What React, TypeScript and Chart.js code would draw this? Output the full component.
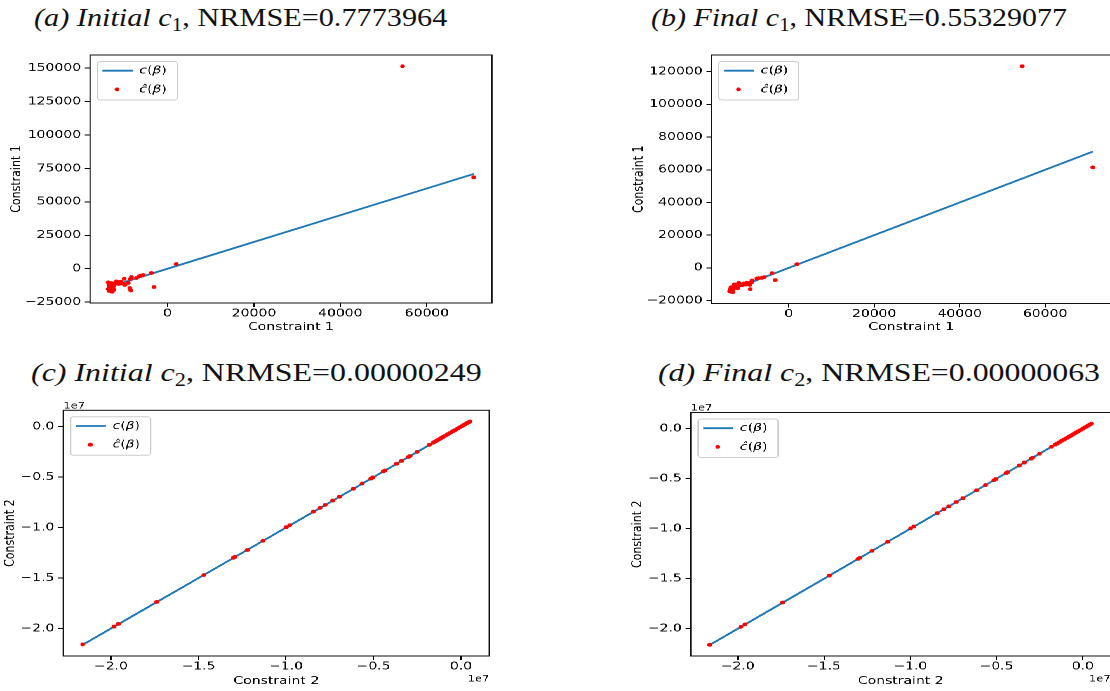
import React, { useEffect, useLayoutEffect, useRef, useState } from 'react';
import { Chart, registerables } from 'chart.js';

Chart.register(...registerables);

// ---------------- DATA ----------------
// (a) Initial c1 : true constraint value (x) vs estimate (y)
const c1TrueA = [-13710, -13710, -13570, -13480, -13340, -13180, -13110, -13110, -12950, -12790, -12560, -12420, -12190, -11800, -11270, -10810, -10250, -10020, -9880, -9100, -8730, -8570, -8500, -8340, -7190, -6660, -6200, -5650, -3730, -3110, 2030, 54400, 70850];
const c1HatInitial = [-15200, -10250, -12200, -16690, -14000, -14450, -15720, -12720, -10700, -17220, -13250, -15720, -11450, -9500, -11450, -9730, -11230, -7490, -12200, -10700, -14450, -7710, -16240, -6210, -6960, -5760, -5240, -4720, -3220, -13700, 3500, 151400, 68340];

// (b) Final c1
const c1TrueB = [-13850, -13680, -13600, -13520, -13400, -13290, -13150, -13050, -12910, -12900, -12750, -12510, -12300, -12120, -11980, -11740, -11340, -10950, -10570, -10180, -9780, -9170, -9010, -8770, -8610, -7440, -7060, -6270, -5730, -3930, -3160, 1920, 54620, 71150];
const c1HatFinal = [-14280, -13250, -14600, -11840, -13600, -12830, -14890, -13860, -11230, -12500, -10190, -12220, -10600, -11230, -12450, -9160, -10190, -10620, -9580, -10190, -9160, -10380, -13000, -8970, -7750, -6530, -6290, -6100, -5680, -3240, -7510, 2260, 123300, 61470];

// (c), (d) c2 : true value and estimates
const c2True = [-2.162e7, -1.983e7, -1.958e7, -1.739e7, -1.469e7, -1.302e7, -1.292e7, -1.221e7, -1.131e7, -0.998e7, -0.979e7, -0.844e7, -0.806e7, -0.777e7, -0.733e7, -0.695e7, -0.616e7, -0.564e7, -0.515e7, -0.504e7, -0.444e7, -0.435e7, -0.368e7, -0.339e7, -0.300e7, -0.291e7, -0.251e7, -0.181e7, -0.160e7, -0.148e7, -0.138e7, -0.130e7, -0.120e7, -0.111e7, -0.101e7, -0.092e7, -0.082e7, -0.073e7, -0.063e7, -0.054e7, -0.045e7, -0.036e7, -0.026e7, -0.017e7, -0.008e7, 0.002e7, 0.011e7, 0.019e7, 0.027e7, 0.035e7, 0.043e7, 0.051e7];
const c2HatInitial = [-2.158e7, -1.981e7, -1.955e7, -1.737e7, -1.470e7, -1.300e7, -1.290e7, -1.222e7, -1.130e7, -0.996e7, -0.977e7, -0.842e7, -0.805e7, -0.776e7, -0.732e7, -0.694e7, -0.615e7, -0.563e7, -0.514e7, -0.503e7, -0.443e7, -0.434e7, -0.367e7, -0.338e7, -0.300e7, -0.290e7, -0.250e7, -0.180e7, -0.159e7, -0.147e7, -0.137e7, -0.129e7, -0.119e7, -0.110e7, -0.100e7, -0.091e7, -0.081e7, -0.072e7, -0.062e7, -0.053e7, -0.044e7, -0.035e7, -0.025e7, -0.016e7, -0.007e7, 0.003e7, 0.012e7, 0.020e7, 0.028e7, 0.036e7, 0.044e7, 0.052e7];
const c2HatFinal = [-2.161e7, -1.982e7, -1.957e7, -1.738e7, -1.469e7, -1.302e7, -1.291e7, -1.221e7, -1.131e7, -0.997e7, -0.978e7, -0.844e7, -0.806e7, -0.777e7, -0.733e7, -0.695e7, -0.616e7, -0.564e7, -0.515e7, -0.504e7, -0.444e7, -0.435e7, -0.368e7, -0.339e7, -0.300e7, -0.291e7, -0.251e7, -0.181e7, -0.160e7, -0.148e7, -0.138e7, -0.130e7, -0.120e7, -0.111e7, -0.101e7, -0.092e7, -0.082e7, -0.073e7, -0.063e7, -0.054e7, -0.045e7, -0.036e7, -0.026e7, -0.017e7, -0.008e7, 0.002e7, 0.011e7, 0.019e7, 0.027e7, 0.035e7, 0.043e7, 0.050e7];

// tick values
const c1TicksX = [0, 20000, 40000, 60000];
const c1InitialTicksY = [-25000, 0, 25000, 50000, 75000, 100000, 125000, 150000];
const c1FinalTicksY = [-20000, 0, 20000, 40000, 60000, 80000, 100000, 120000];
const c2Ticks = [-2e7, -1.5e7, -1e7, -0.5e7, 0];

// ---------------- LAYOUT ----------------
const S = 1.27; // horizontal stretch of the reference picture
const FONT = { family: 'DejaVu Sans', size: 11 };
const HALF_LH = 6.6;
const DOT_R = 1.9;
const LINE_W = 1.8;
const U = (x: number) => x / S;

const fmtInt = (v: number) => (v < 0 ? '\u2212' : '') + Math.abs(v).toString();
const fmtE7 = (v: number) => {
  const t = v / 1e7;
  if (Math.abs(t) < 1e-9) return '0.0';
  return (t < 0 ? '\u2212' : '') + Math.abs(t).toFixed(1);
};

function padRange(arr: number[]): [number, number] {
  const mn = Math.min(...arr);
  const mx = Math.max(...arr);
  const m = (mx - mn) * 0.05;
  return [mn - m, mx + m];
}

function drawMath(ctx: CanvasRenderingContext2D, base: string, x: number, y: number) {
  const parts: [string, boolean][] = [[base, true], ['(', false], ['\u03B2', true], [')', false]];
  ctx.textBaseline = 'middle';
  ctx.textAlign = 'left';
  ctx.fillStyle = '#000';
  let cx = x;
  for (const [t, it] of parts) {
    ctx.font = `${it ? 'italic ' : ''}11px "DejaVu Sans"`;
    ctx.fillText(t, cx, y);
    cx += ctx.measureText(t).width;
  }
}

type Area = { L: number; T: number; R: number; B: number };
interface PanelProps {
  xs: number[];
  ys: number[];
  xTicks: number[];
  yTicks: number[];
  fmt: (v: number) => string;
  label: string;
  area: Area;
  yTitleX: number;
  xTitleY: number;
  offsetText?: boolean;
}

function ScatterPanel(p: PanelProps) {
  const ref = useRef<HTMLCanvasElement>(null);
  const cl = Math.floor(U(p.yTitleX) - HALF_LH - 1);
  const ct = Math.floor(p.area.T - 22);
  const cb = Math.ceil(p.xTitleY + HALF_LH + 2);
  const cr = Math.ceil(U(p.area.R) + 12);
  const w = cr - cl;
  const h = cb - ct;

  useEffect(() => {
    const canvas = ref.current;
    if (!canvas) return;
    const [xmin, xmax] = padRange(p.xs);
    const [ymin, ymax] = padRange([...p.xs, ...p.ys]);
    const wy = U(p.area.L) - cl;
    const hx = cb - p.area.B;
    const overlay = {
      id: 'overlay',
      afterDraw(chart: any) {
        const ctx: CanvasRenderingContext2D = chart.ctx;
        const a = chart.chartArea;
        ctx.save();
        ctx.strokeStyle = '#111';
        ctx.lineWidth = 1;
        ctx.strokeRect(a.left, a.top, a.right - a.left, a.bottom - a.top);
        // legend
        const bx = a.left + 5.8, by = a.top + 6.5, bw = 63, bh = 38.5;
        ctx.beginPath();
        if ((ctx as any).roundRect) (ctx as any).roundRect(bx, by, bw, bh, 2.5);
        else ctx.rect(bx, by, bw, bh);
        ctx.fillStyle = 'rgba(255,255,255,0.8)';
        ctx.fill();
        ctx.strokeStyle = '#cccccc';
        ctx.lineWidth = 1;
        ctx.stroke();
        const r1 = a.top + 15.7, r2 = a.top + 34.4;
        ctx.beginPath();
        ctx.moveTo(a.left + 9.8, r1);
        ctx.lineTo(a.left + 33.6, r1);
        ctx.strokeStyle = '#1f77b4';
        ctx.lineWidth = LINE_W;
        ctx.stroke();
        ctx.beginPath();
        ctx.arc(a.left + 21.3, r2, DOT_R, 0, Math.PI * 2);
        ctx.fillStyle = '#ff0000';
        ctx.fill();
        drawMath(ctx, 'c', a.left + 38.8, r1);
        drawMath(ctx, '\u0109', a.left + 38.8, r2);
        if (p.offsetText) {
          ctx.font = '9px "DejaVu Sans"';
          ctx.fillStyle = '#000';
          ctx.textBaseline = 'alphabetic';
          ctx.textAlign = 'left';
          ctx.fillText('1e7', a.left, a.top - 2);
          ctx.textAlign = 'right';
          ctx.fillText('1e7', a.right, a.bottom + 25.7);
        }
        ctx.restore();
      },
    };
    const chart = new Chart(canvas, {
      type: 'scatter',
      data: {
        datasets: [
          {
            label: '\u0109(\u03B2)',
            data: p.xs.map((x, i) => ({ x, y: p.ys[i] })),
            pointRadius: DOT_R,
            pointBackgroundColor: '#ff0000',
            pointBorderWidth: 0,
            showLine: false,
          },
          {
            label: 'c(\u03B2)',
            data: p.xs.map((x) => ({ x, y: x })),
            showLine: true,
            pointRadius: 0,
            borderColor: '#1f77b4',
            borderWidth: LINE_W,
          },
        ],
      },
      options: {
        responsive: false,
        animation: false,
        devicePixelRatio: 2,
        events: [],
        layout: { padding: { left: 0, top: p.area.T - ct, right: cr - U(p.area.R), bottom: 0 } },
        plugins: { legend: { display: false }, tooltip: { enabled: false } },
        scales: {
          x: {
            type: 'linear',
            position: 'bottom',
            min: xmin,
            max: xmax,
            afterBuildTicks: (s: any) => {
              s.ticks = p.xTicks.map((v) => ({ value: v }));
            },
            afterFit: (s: any) => {
              s.height = hx;
              s.paddingLeft = 0; s.paddingRight = 0; s.paddingTop = 0; s.paddingBottom = 0;
            },
            ticks: { callback: (v: any) => p.fmt(+v), font: FONT, color: '#000', padding: 0, maxRotation: 0, minRotation: 0, autoSkip: false },
            grid: { display: true, drawOnChartArea: false, drawTicks: true, tickLength: 4, color: '#000', tickColor: '#000', lineWidth: 1 },
            border: { display: false },
            title: { display: true, text: p.label, font: FONT, color: '#000', padding: { top: 0, bottom: cb - p.xTitleY - HALF_LH } },
          },
          y: {
            type: 'linear',
            position: 'left',
            min: ymin,
            max: ymax,
            afterBuildTicks: (s: any) => {
              s.ticks = p.yTicks.map((v) => ({ value: v }));
            },
            afterFit: (s: any) => {
              s.width = wy;
              s.paddingLeft = 0; s.paddingRight = 0; s.paddingTop = 0; s.paddingBottom = 0;
            },
            ticks: { callback: (v: any) => p.fmt(+v), font: FONT, color: '#000', padding: 3, autoSkip: false },
            grid: { display: true, drawOnChartArea: false, drawTicks: true, tickLength: 4, color: '#000', tickColor: '#000', lineWidth: 1 },
            border: { display: false },
            title: { display: true, text: p.label, font: FONT, color: '#000', padding: { top: U(p.yTitleX) - HALF_LH - cl, bottom: 0 } },
          },
        },
      },
      plugins: [overlay],
    } as any);
    return () => chart.destroy();
  }, []);

  return (
    <canvas
      ref={ref}
      width={w}
      height={h}
      style={{ position: 'absolute', left: cl, top: ct, width: w + 'px', height: h + 'px' }}
    />
  );
}

function FigTitle({ left, baseline, width, children }: { left: number; baseline: number; width: number; children: any }) {
  const ref = useRef<HTMLDivElement>(null);
  const [sx, setSx] = useState(1);
  useLayoutEffect(() => {
    const el = ref.current;
    if (el && el.offsetWidth > 0) setSx(width / el.offsetWidth);
  }, [width]);
  return (
    <div
      ref={ref}
      style={{
        position: 'absolute',
        left,
        top: baseline - 21.8,
        whiteSpace: 'nowrap',
        fontFamily: '"Liberation Serif", serif',
        fontSize: '26px',
        lineHeight: '26px',
        color: '#111',
        transform: `scaleX(${sx})`,
        transformOrigin: '0 0',
      }}
    >
      {children}
    </div>
  );
}

const subStyle: React.CSSProperties = { fontSize: '0.7em', verticalAlign: '-0.25em', fontStyle: 'normal' };

export default function App() {
  return (
    <div style={{ position: 'absolute', left: 0, top: 0, width: 1110, height: 691, overflow: 'hidden', background: '#fff' }}>
      <FigTitle left={34} baseline={27} width={413}>
        <i>(a) Initial c</i><span style={subStyle}>1</span>, NRMSE=0.7773964
      </FigTitle>
      <FigTitle left={651} baseline={27} width={416}>
        <i>(b) Final c</i><span style={subStyle}>1</span>, NRMSE=0.55329077
      </FigTitle>
      <FigTitle left={31} baseline={382} width={451}>
        <i>(c) Initial c</i><span style={subStyle}>2</span>, NRMSE=0.00000249
      </FigTitle>
      <FigTitle left={658} baseline={382} width={442}>
        <i>(d) Final c</i><span style={subStyle}>2</span>, NRMSE=0.00000063
      </FigTitle>
      <div style={{ position: 'absolute', left: 0, top: 0, width: 1110 / S, height: 691, transform: `scaleX(${S})`, transformOrigin: '0 0' }}>
        <ScatterPanel xs={c1TrueA} ys={c1HatInitial} xTicks={c1TicksX} yTicks={c1InitialTicksY} fmt={fmtInt} label="Constraint 1"
          area={{ L: 90, T: 55, R: 492, B: 303 }} yTitleX={17} xTitleY={327} />
        <ScatterPanel xs={c1TrueB} ys={c1HatFinal} xTicks={c1TicksX} yTicks={c1FinalTicksY} fmt={fmtInt} label="Constraint 1"
          area={{ L: 711.5, T: 55, R: 1111, B: 303.5 }} yTitleX={639} xTitleY={327} />
        <ScatterPanel xs={c2True} ys={c2HatInitial} xTicks={c2Ticks} yTicks={c2Ticks} fmt={fmtE7} label="Constraint 2"
          area={{ L: 63.3, T: 410.3, R: 489.3, B: 656 }} yTitleX={10.5} xTitleY={681} offsetText />
        <ScatterPanel xs={c2True} ys={c2HatFinal} xTicks={c2Ticks} yTicks={c2Ticks} fmt={fmtE7} label="Constraint 2"
          area={{ L: 690.7, T: 412.5, R: 1110.7, B: 656 }} yTitleX={638} xTitleY={681} offsetText />
      </div>
    </div>
  );
}
